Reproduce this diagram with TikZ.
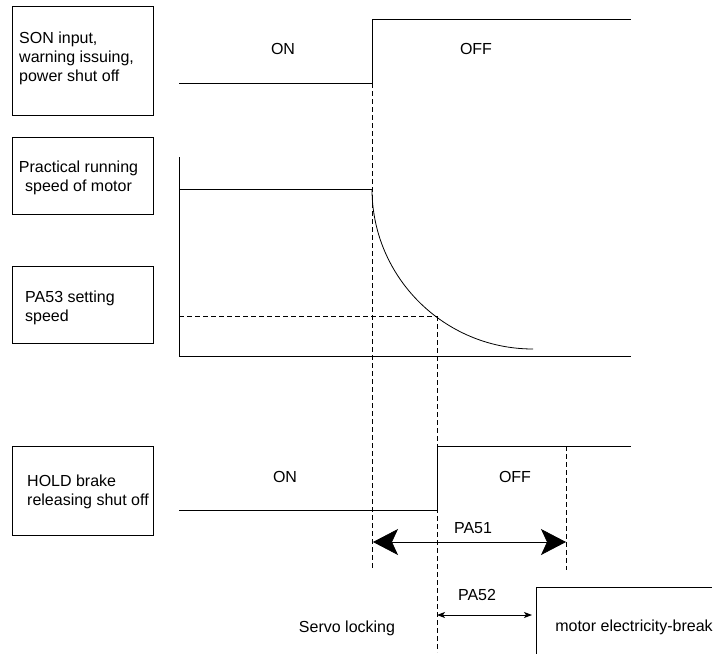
\documentclass[tikz,border=0pt]{standalone}
\usepackage{fontspec}
\setmainfont{Liberation Sans}
\usetikzlibrary{arrows.meta}
\begin{document}
\begin{tikzpicture}[x=1pt,y=-1pt,
  font=\fontsize{16}{19}\selectfont,
  lbox/.style={draw, line width=0.8pt, inner sep=0pt},
  lbl/.style={inner sep=0pt},
  sig/.style={line width=0.8pt},
  dsh/.style={line width=0.8pt, dash pattern=on 5pt off 3pt},
  bigarrow/.style={line width=0.8pt, {Stealth[length=25pt,width=26pt,inset=6pt]}-{Stealth[length=25pt,width=26pt,inset=6pt]}},
  smallarrow/.style={line width=0.8pt, {Stealth[length=8pt,width=6pt,inset=2pt]}-{Stealth[length=8pt,width=6pt,inset=2pt]}}
]
\useasboundingbox (0,0) rectangle (716,654);

% label boxes
\node[lbox, minimum width=141pt, minimum height=109pt] (b1) at (82.5,60.5) {};
\node[lbox, minimum width=141pt, minimum height=77pt] (b2) at (82.5,175.5) {};
\node[lbox, minimum width=141pt, minimum height=77pt] (b3) at (82.5,304.5) {};
\node[lbox, minimum width=141pt, minimum height=89pt] (b4) at (82.5,490.5) {};

\node[lbl, anchor=west, align=left] (t1) at (19,58.5) {SON input,\\warning issuing,\\power shut off};
\node[lbl, align=center] (t2) at (78.5,178) {Practical running\\speed of motor};
\node[lbl, anchor=west, align=left] (t3) at (25,307.5) {PA53 setting\\speed};
\node[lbl, anchor=west, align=left] (t4) at (27,492) {HOLD brake\\releasing shut off};

% coordinates
\coordinate (sA) at (179,83);
\coordinate (sB) at (372,83);
\coordinate (sC) at (372,19);
\coordinate (sD) at (631,19);

\coordinate (axTop) at (179,157);
\coordinate (axO) at (179,356);
\coordinate (axR) at (631,356);
\coordinate (vL) at (179,189);
\coordinate (vS) at (372,189);
\coordinate (vE) at (533,349);
\coordinate (pSet) at (437,316);
\coordinate (pSetL) at (179,316);

\coordinate (hA) at (179,510);
\coordinate (hB) at (437,510);
\coordinate (hC) at (437,446);
\coordinate (hD) at (631,446);

\coordinate (d1t) at (372,83);
\coordinate (d1b) at (372,569);
\coordinate (d2b) at (437,652);
\coordinate (d3t) at (566,446);
\coordinate (d3b) at (566,570);

\coordinate (a51L) at (373,542);
\coordinate (a51R) at (566,542);
\coordinate (a52L) at (437,615);
\coordinate (a52R) at (532,615);

\coordinate (mA) at (536,654);
\coordinate (mB) at (536,587);
\coordinate (mC) at (712,587);

% SON signal
\draw[sig] (sA) -- (sB) -- (sC) -- (sD);
\node[lbl] (on1) at (283,49) {ON};
\node[lbl] (off1) at (476,49) {OFF};

% speed plot
\draw[sig] (axTop) -- (axO) -- (axR);
\draw[sig] (vL) -- (vS);
\draw[sig] (vS) .. controls (372,277) and (444,349) .. (vE);
\draw[dsh] (pSetL) -- (pSet);

% HOLD signal
\draw[sig] (hA) -- (hB) -- (hC) -- (hD);
\node[lbl] (on2) at (285,477) {ON};
\node[lbl] (off2) at (515,477) {OFF};

% dashed verticals
\draw[dsh] (d1t) -- (d1b);
\draw[dsh] (pSet) -- (d2b);
\draw[dsh] (d3t) -- (d3b);

% PA51
\draw[bigarrow] (a51L) -- (a51R);
\node[lbl] (pa51) at (473,528) {PA51};

% PA52
\draw[smallarrow] (a52L) -- (a52R);
\node[lbl] (pa52) at (477,595) {PA52};

% motor electricity-break step
\draw[sig] (mA) -- (mB) -- (mC);
\node[lbl] (meb) at (634,627) {motor electricity-break};
\node[lbl] (servo) at (347,628) {Servo locking};
\end{tikzpicture}
\end{document}
